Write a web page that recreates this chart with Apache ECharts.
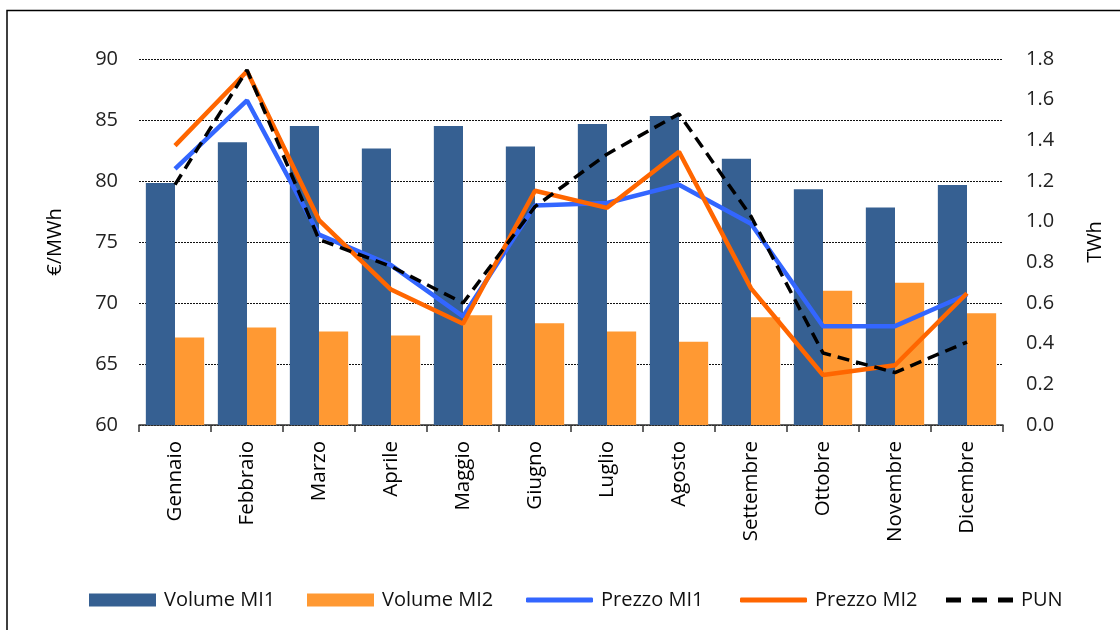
<!DOCTYPE html>
<html>
<head>
<meta charset="utf-8">
<script src="https://cdn.jsdelivr.net/npm/echarts@6/dist/echarts.min.js"></script>
<style>
html,body{margin:0;padding:0;background:#fff;}
#chart{width:1120px;height:630px;}
</style>
</head>
<body>
<div id="chart"></div>
<script>
const months = ['Gennaio','Febbraio','Marzo','Aprile','Maggio','Giugno','Luglio','Agosto','Settembre','Ottobre','Novembre','Dicembre'];
const volumeMI1 = [1.19, 1.39, 1.47, 1.36, 1.47, 1.37, 1.48, 1.52, 1.31, 1.16, 1.07, 1.18];
const volumeMI2 = [0.43, 0.48, 0.46, 0.44, 0.54, 0.50, 0.46, 0.41, 0.53, 0.66, 0.70, 0.55];
const prezzoMI1 = [81.0, 86.6, 75.6, 73.1, 68.9, 78.0, 78.2, 79.7, 76.5, 68.1, 68.1, 70.7];
const prezzoMI2 = [82.9, 89.0, 76.8, 71.1, 68.3, 79.2, 77.8, 82.4, 71.2, 64.1, 64.9, 70.8];
const pun       = [79.7, 89.1, 75.2, 73.0, 70.0, 77.9, 82.2, 85.5, 77.1, 65.9, 64.3, 66.8];

const FONT = '"Open Sans", "Noto Sans", sans-serif';
const chart = echarts.init(document.getElementById('chart'), null, {renderer: 'canvas'});

function leg(name, left, icon, h) {
  return {
    data: [{name: name, icon: icon}],
    left: left, top: 590,
    itemWidth: 67, itemHeight: h,
    padding: 0,
    textStyle: {fontFamily: FONT, fontSize: 20, color: '#111', padding: [0, 0, 0, 3]}
  };
}
const dashIcon = 'path://M0,0h15v5h-15zM26,0h15v5h-15zM52,0h15v5h-15z';

chart.setOption({
  animation: false,
  backgroundColor: '#fff',
  graphic: [{
    type: 'rect', silent: true,
    shape: {x: 7, y: 10.5, width: 1200, height: 700},
    style: {fill: 'none', stroke: '#000', lineWidth: 1.5}
  }],
  grid: {left: 139, right: 117, top: 59, bottom: 205, containLabel: false},
  legend: [
    leg('Volume MI1', 89, 'rect', 13),
    leg('Volume MI2', 307, 'rect', 13),
    leg('Prezzo MI1', 526, 'roundRect', 5),
    leg('Prezzo MI2', 740, 'roundRect', 5),
    leg('PUN', 946, dashIcon, 5)
  ],
  xAxis: {
    type: 'category',
    data: months,
    axisLine: {show: true, lineStyle: {color: '#333', width: 1.5}},
    axisTick: {show: true, length: 7, lineStyle: {color: '#333', width: 1.5}},
    axisLabel: {rotate: 90, margin: 16, fontFamily: FONT, fontSize: 20.5, color: '#000', interval: 0}
  },
  yAxis: [{
    type: 'value', min: 60, max: 90, interval: 5,
    name: '€/MWh', nameLocation: 'middle', nameGap: 74, nameRotate: 90,
    nameTextStyle: {fontFamily: FONT, fontSize: 20, color: '#000'},
    axisLine: {show: false}, axisTick: {show: false},
    axisLabel: {margin: 21, fontFamily: FONT, fontSize: 20, color: '#222'},
    splitLine: {show: true, lineStyle: {color: '#111', width: 1, type: [2, 1]}}
  }, {
    type: 'value', min: 0, max: 1.8, interval: 0.2,
    name: 'TWh', nameLocation: 'middle', nameGap: 82, nameRotate: 90,
    nameTextStyle: {fontFamily: FONT, fontSize: 20, color: '#000'},
    axisLine: {show: false}, axisTick: {show: false},
    axisLabel: {margin: 23, fontFamily: FONT, fontSize: 20, color: '#222',
      formatter: v => v.toFixed(1)},
    splitLine: {show: false}
  }],
  series: [{
    name: 'Volume MI1', type: 'bar', yAxisIndex: 1, data: volumeMI1,
    barGap: '0%', barCategoryGap: '19%',
    itemStyle: {color: '#366092'}
  }, {
    name: 'Volume MI2', type: 'bar', yAxisIndex: 1, data: volumeMI2,
    barGap: '0%', barCategoryGap: '19%',
    itemStyle: {color: '#FF9933'}
  }, {
    name: 'Prezzo MI1', type: 'line', yAxisIndex: 0, data: prezzoMI1,
    symbol: 'none', lineStyle: {color: '#3366FF', width: 4.5}, itemStyle: {color: '#3366FF'}
  }, {
    name: 'Prezzo MI2', type: 'line', yAxisIndex: 0, data: prezzoMI2,
    symbol: 'none', lineStyle: {color: '#FF6600', width: 4.5}, itemStyle: {color: '#FF6600'}
  }, {
    name: 'PUN', type: 'line', yAxisIndex: 0, data: pun,
    symbol: 'none', lineStyle: {color: '#000', width: 3.5, type: [12, 7]}, itemStyle: {color: '#000'}
  }]
});
</script>
</body>
</html>
